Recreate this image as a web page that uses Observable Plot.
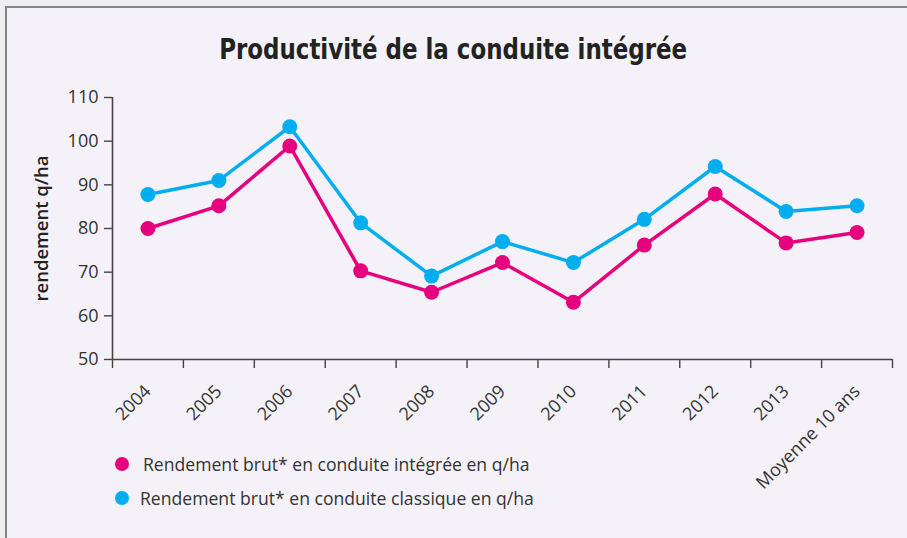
<!DOCTYPE html>
<html>
<head>
<meta charset="utf-8">
<script src="https://cdn.jsdelivr.net/npm/d3@7"></script>
<script src="https://cdn.jsdelivr.net/npm/@observablehq/plot@0.6"></script>
<style>
  html, body { margin: 0; padding: 0; background: #efeff1; width: 907px; height: 538px; overflow: hidden; }
  #frame { position: absolute; left: 5px; top: 6px; width: 920px; height: 560px; background: #f4f2f8;
           border-left: 2px solid #858585; border-top: 2px solid #858585; }
  #chart { position: absolute; left: 0; top: 0; }
  #title { position: absolute; left: 0; width: 907px; top: 31px; text-align: center;
           font-family: "DejaVu Sans", sans-serif; font-stretch: condensed; font-weight: bold;
           font-size: 29px; color: #222; line-height: 36px; }
  #title span { display: inline-block; transform-origin: center; }
  .leg { position: absolute; left: 114px; font-family: "Open Sans", sans-serif; font-size: 17.6px; color: #333; line-height: 20px; }
  .leg span.dot { position: absolute; left: 1px; top: 3px; width: 14px; height: 14px; border-radius: 50%; }
  .leg span.txt { position: absolute; white-space: nowrap; }
</style>
</head>
<body>
<div id="frame"></div>
<div id="chart"></div>
<div id="title"><span id="tspan">Productivité de la conduite intégrée</span></div>
<div class="leg" style="top:454px"><span class="dot" style="background:#e6007e"></span><span class="txt" style="left:29px">Rendement brut* en conduite intégrée en q/ha</span></div>
<div class="leg" style="top:488px"><span class="dot" style="background:#00aeef"></span><span class="txt" style="left:26px">Rendement brut* en conduite classique en q/ha</span></div>
<script>
const categories = ["2004", "2005", "2006", "2007", "2008", "2009", "2010", "2011", "2012", "2013", "Moyenne 10 ans"];
const integree = [80, 85.2, 98.9, 70.3, 65.4, 72.2, 63.1, 76.2, 87.9, 76.7, 79.1];
const classique = [87.8, 91, 103.3, 81.3, 69.1, 77, 72.2, 82.1, 94.2, 83.9, 85.2];
const yTicks = [50, 60, 70, 80, 90, 100, 110];
const seriesNames = ["Rendement brut* en conduite intégrée en q/ha", "Rendement brut* en conduite classique en q/ha"];
const seriesColors = ["#e6007e", "#00aeef"];

const idx = categories.map((_, i) => i);
const edges = d3.range(categories.length + 1).map(i => i - 0.5);
const data = [];
idx.forEach(i => data.push({i, value: integree[i], serie: seriesNames[0]}));
idx.forEach(i => data.push({i, value: classique[i], serie: seriesNames[1]}));

const chart = Plot.plot({
  width: 907,
  height: 538,
  marginTop: 97,
  marginBottom: 179,
  marginLeft: 112,
  marginRight: 15,
  style: {background: "transparent", fontFamily: "'Open Sans', sans-serif", color: "#333"},
  x: {type: "linear", domain: [-0.5, categories.length - 0.5]},
  y: {domain: [50, 110]},
  color: {domain: seriesNames, range: seriesColors},
  marks: [
    Plot.axisY({ticks: yTicks, tickSize: 8, tickPadding: 6, label: null, fontSize: 18, stroke: "#444", strokeWidth: 1.4}),
    Plot.axisX({ticks: edges, tickSize: 9, tickFormat: () => "", label: null, stroke: "#444", strokeWidth: 1.4}),
    Plot.ruleX([-0.5], {stroke: "#444", strokeWidth: 1.6}),
    Plot.ruleY([50], {stroke: "#444", strokeWidth: 1.6}),
    Plot.text(idx, {x: d => d, text: d => categories[d], frameAnchor: "bottom", rotate: -45,
      textAnchor: "end", lineAnchor: "bottom", dx: 4, dy: 33, fontSize: 18, fill: "#333"}),
    Plot.text(["rendement q/ha"], {frameAnchor: "left", textAnchor: "middle", dx: -70, rotate: -90, fontSize: 18.5,
      fontWeight: 600, fill: "#222"}),
    Plot.line(data, {x: "i", y: "value", stroke: "serie", z: "serie", strokeWidth: 3.5}),
    Plot.dot(data, {x: "i", y: "value", fill: "serie", r: 7.5})
  ]
});
document.getElementById("chart").appendChild(chart);
// fit title to reference width
const ts = document.getElementById("tspan");
const w = ts.getBoundingClientRect().width;
ts.style.transform = `scaleX(${468 / w})`;
</script>
</body>
</html>
